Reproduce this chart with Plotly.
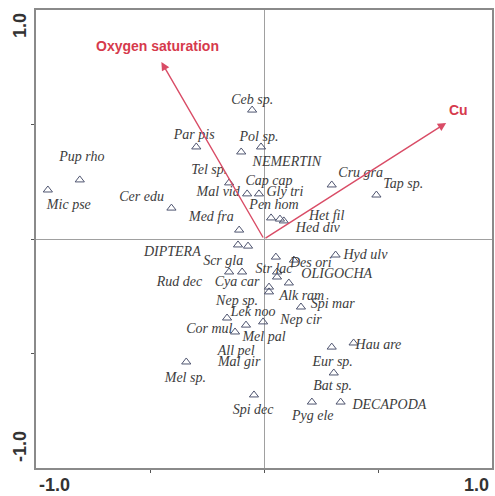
import plotly.graph_objects as go

# Species sample scores (triangles)
point_x = [-0.948, -0.808, -0.406, -0.297, -0.153, -0.100, -0.013, -0.052,
           -0.074, -0.022, 0.031, 0.070, 0.087, -0.109, 0.297, 0.493,
           -0.114, -0.070, -0.153, -0.096, 0.052, 0.057, 0.057, 0.131,
           0.314, 0.022, 0.022, 0.109, 0.162, -0.162, -0.004, -0.079,
           -0.127, -0.341, -0.044, 0.210, 0.336, 0.306, 0.297, 0.393]
point_y = [0.214, 0.258, 0.135, 0.402, 0.245, 0.380, 0.402, 0.563,
           0.197, 0.197, 0.092, 0.087, 0.079, 0.039, 0.236, 0.192,
           -0.026, -0.031, -0.144, -0.144, -0.079, -0.144, -0.166, -0.092,
           -0.070, -0.210, -0.231, -0.192, -0.297, -0.345, -0.362, -0.376,
           -0.406, -0.537, -0.681, -0.712, -0.712, -0.585, -0.472, -0.454]

# Species labels
label_text = ["Pup rho", "Mic pse", "Cer edu", "Par pis", "Pol sp.", "Ceb sp.",
              "NEMERTIN", "Tel sp.", "Mal vid", "Cap cap", "Gly tri", "Pen hom",
              "Med fra", "Het fil", "Hed div", "Cru gra", "Tap sp.", "DIPTERA",
              "Scr gla", "Str lac", "Des ori", "Hyd ulv", "OLIGOCHA", "Rud dec",
              "Cya car", "Alk ram", "Spi mar", "Nep sp.", "Lek noo", "Nep cir",
              "Cor mul", "Mel pal", "All pel", "Mal gir", "Mel sp.", "Spi dec",
              "Pyg ele", "DECAPODA", "Bat sp.", "Eur sp.", "Hau are"]
label_x = [-0.799, -0.856, -0.537, -0.306, -0.022, -0.052,
           0.100, -0.240, -0.201, 0.022, 0.092, 0.044,
           -0.231, 0.275, 0.236, 0.424, 0.611, -0.402,
           -0.179, 0.044, 0.205, 0.445, 0.319, -0.371,
           -0.118, 0.166, 0.301, -0.118, -0.048, 0.162,
           -0.240, 0.000, -0.122, -0.109, -0.345, -0.048,
           0.214, 0.550, 0.301, 0.301, 0.502]
label_y = [0.358, 0.148, 0.183, 0.454, 0.445, 0.607,
           0.336, 0.301, 0.205, 0.249, 0.205, 0.148,
           0.092, 0.100, 0.048, 0.288, 0.240, -0.057,
           -0.100, -0.135, -0.105, -0.070, -0.157, -0.192,
           -0.192, -0.253, -0.288, -0.275, -0.323, -0.354,
           -0.397, -0.432, -0.493, -0.541, -0.611, -0.747,
           -0.777, -0.729, -0.646, -0.541, -0.463]

# Environmental variables (biplot arrows)
env_names = ["Oxygen saturation", "Cu"]
env_x = [-0.450, 0.799]
env_y = [0.773, 0.507]
env_label_x = [-0.467, 0.852]
env_label_y = [0.838, 0.555]

ARROW_COLOR = "#d94c66"
TEXT_COLOR = "#3c3c3c"

fig = go.Figure()

fig.add_trace(go.Scatter(
    x=point_x, y=point_y, mode="markers",
    marker=dict(symbol="triangle-up-open", size=8, color="#4f5570",
                line=dict(width=1, color="#4f5570")),
    hoverinfo="skip", showlegend=False))

fig.add_trace(go.Scatter(
    x=label_x, y=label_y, mode="text",
    text=["<i>" + t + "</i>" for t in label_text],
    textfont=dict(family="Liberation Serif", size=14, color=TEXT_COLOR),
    textposition="middle center",
    hoverinfo="skip", showlegend=False))

fig.add_trace(go.Scatter(
    x=env_label_x, y=env_label_y, mode="text",
    text=["<b>" + t + "</b>" for t in env_names],
    textfont=dict(family="Liberation Sans", size=14, color="#d63a4c"),
    textposition="middle center",
    hoverinfo="skip", showlegend=False))

annotations = []
for ex, ey in zip(env_x, env_y):
    annotations.append(dict(
        x=ex, y=ey, ax=0, ay=0, xref="x", yref="y", axref="x", ayref="y",
        text="", showarrow=True, arrowhead=2, arrowsize=1.2, arrowwidth=1.4,
        arrowcolor=ARROW_COLOR))

tick_font = dict(family="Liberation Sans", size=18, color="#333333")
annotations += [
    dict(text="<b>1.0</b>", xref="paper", yref="paper", x=-0.035, y=0.965,
         showarrow=False, textangle=-90, font=tick_font,
         xanchor="center", yanchor="middle"),
    dict(text="<b>-1.0</b>", xref="paper", yref="paper", x=-0.035, y=0.046,
         showarrow=False, textangle=-90, font=tick_font,
         xanchor="center", yanchor="middle"),
    dict(text="<b>-1.0</b>", xref="paper", yref="paper", x=0.041, y=-0.038,
         showarrow=False, font=tick_font, xanchor="center", yanchor="middle"),
    dict(text="<b>1.0</b>", xref="paper", yref="paper", x=0.967, y=-0.038,
         showarrow=False, font=tick_font, xanchor="center", yanchor="middle"),
]

axis_common = dict(
    range=[-1, 1], showgrid=False, zeroline=True, zerolinecolor="#a0a0a0",
    zerolinewidth=1, showline=True, linecolor="#8a8a8a", linewidth=2,
    mirror=True, ticks="outside", ticklen=3, tickcolor="#555555",
    tickvals=[-0.5, 0, 0.5], showticklabels=False, fixedrange=True)

fig.update_layout(
    width=495, height=496,
    margin=dict(l=36, r=1, t=10, b=28),
    paper_bgcolor="white", plot_bgcolor="white",
    xaxis=axis_common, yaxis=axis_common,
    annotations=annotations,
)

fig.write_html("out.html")
